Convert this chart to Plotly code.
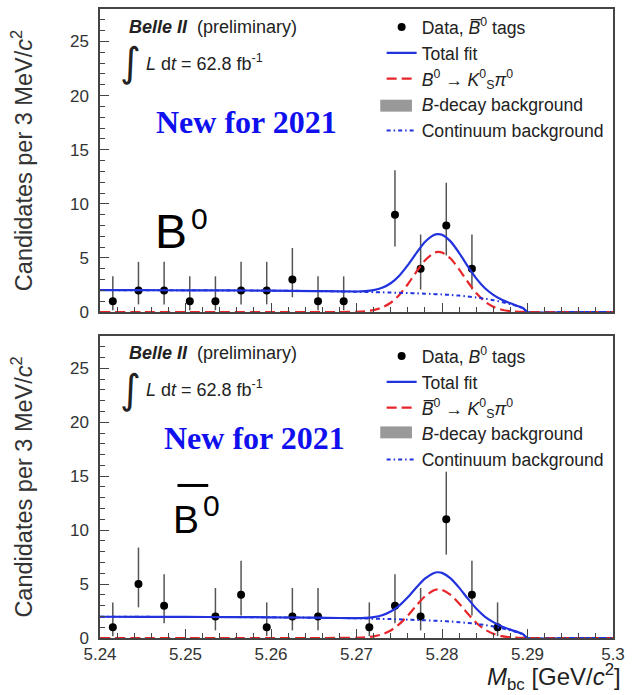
import plotly.graph_objects as go

# ---- binned data: 3 MeV bins in M_bc (bins with zero entries are not drawn) ----
M_TOP = [5.2415, 5.2445, 5.2475, 5.2505, 5.2535, 5.2565, 5.2595, 5.2625, 5.2655,
         5.2685, 5.2745, 5.2775, 5.2805, 5.2835]
N_TOP = [1, 2, 2, 1, 1, 2, 2, 3, 1, 1, 9, 4, 8, 4]

M_BOT = [5.2415, 5.2445, 5.2475, 5.2535, 5.2565, 5.2595, 5.2625, 5.2655, 5.2715,
         5.2745, 5.2775, 5.2805, 5.2835, 5.2865]
N_BOT = [1, 5, 3, 2, 4, 1, 2, 2, 1, 3, 2, 11, 4, 1]

# 68.3% Poisson (Garwood) interval limits, indexed by observed count n
POIS_LO = [0.0, 0.173, 0.708, 1.367, 2.086, 2.840, 3.620, 4.419, 5.232, 6.057, 6.891, 7.734]
POIS_HI = [1.841, 3.300, 4.638, 5.918, 7.163, 8.382, 9.584, 10.77, 11.95, 13.11, 14.27, 15.42]

# ---- fit components sampled along M_bc ----
GRID = [5.240, 5.245, 5.250, 5.255, 5.260, 5.265, 5.268, 5.270, 5.271, 5.272, 5.273,
        5.274, 5.275, 5.276, 5.277, 5.278, 5.279, 5.2795, 5.280, 5.281, 5.282, 5.283,
        5.284, 5.285, 5.286, 5.287, 5.288, 5.289, 5.2895, 5.290, 5.295, 5.300]

CONT_TOP = [2.03, 2.02, 2.01, 2.00, 1.98, 1.94, 1.91, 1.88, 1.86, 1.84, 1.82, 1.80,
            1.78, 1.76, 1.73, 1.70, 1.66, 1.645, 1.63, 1.58, 1.52, 1.44, 1.35, 1.24,
            1.10, 0.93, 0.73, 0.49, 0.33, 0.0, 0.0, 0.0]
SIG_TOP = [0, 0, 0, 0, 0, 0, 0.005, 0.02, 0.07, 0.18, 0.42, 0.86, 1.58, 2.57, 3.72,
           4.77, 5.44, 5.56, 5.51, 4.95, 3.95, 2.80, 1.76, 0.98, 0.49, 0.21, 0.08,
           0.03, 0.02, 0, 0, 0]
BDEC_TOP = [0, 0, 0, 0, 0, 0, 0, 0, 0, 0, 0, 0, 0, 0, 0, 0, 0, 0, 0, 0, 0, 0, 0, 0,
            0, 0, 0, 0, 0, 0, 0, 0]

CONT_BOT = [1.97, 1.96, 1.95, 1.94, 1.92, 1.88, 1.85, 1.83, 1.81, 1.79, 1.77, 1.75,
            1.73, 1.70, 1.67, 1.64, 1.61, 1.595, 1.58, 1.53, 1.47, 1.40, 1.31, 1.20,
            1.07, 0.90, 0.71, 0.48, 0.32, 0.0, 0.0, 0.0]
SIG_BOT = [0, 0, 0, 0, 0, 0, 0.004, 0.015, 0.055, 0.15, 0.34, 0.70, 1.28, 2.08, 3.01,
           3.86, 4.40, 4.50, 4.46, 4.00, 3.20, 2.27, 1.42, 0.79, 0.40, 0.17, 0.065,
           0.025, 0.015, 0, 0, 0]
BDEC_BOT = [0, 0, 0, 0, 0, 0, 0, 0, 0, 0, 0, 0, 0, 0, 0, 0, 0, 0, 0, 0, 0, 0, 0, 0,
            0, 0, 0, 0, 0, 0, 0, 0]

X_TICKS = [5.24, 5.25, 5.26, 5.27, 5.28, 5.29, 5.30]
X_TICKTEXT = ["5.24", "5.25", "5.26", "5.27", "5.28", "5.29", "5.3"]
Y_TICKS = [0, 5, 10, 15, 20, 25]

BLUE = "#2233dd"
RED = "#e8262a"
BDEC_GREY = "#999999"
GREY_AX = "#444444"
FONT = "Liberation Sans, Arial, sans-serif"

LEG_DATA_TOP = "Data, <i>B\u0305</i><sup>0</sup> tags"
LEG_DATA_BOT = "Data, <i>B</i><sup>0</sup> tags"
LEG_SIG_TOP = "<i>B</i><sup>0</sup> \u2192 <i>K</i><sup>0</sup><sub>S</sub><i>\u03c0</i><sup>0</sup>"
LEG_SIG_BOT = "<i>B\u0305</i><sup>0</sup> \u2192 <i>K</i><sup>0</sup><sub>S</sub><i>\u03c0</i><sup>0</sup>"

fig = go.Figure()


def add_panel(xa, ya, legend, m, n, cont, sig, bdec, leg_data, leg_sig):
    total = [c + s + b for c, s, b in zip(cont, sig, bdec)]
    err_hi = [POIS_HI[k] - k for k in n]
    err_lo = [k - POIS_LO[k] for k in n]
    common = dict(xaxis=xa, yaxis=ya, legend=legend)
    fig.add_trace(go.Scatter(
        x=m, y=n, mode="markers", name=leg_data, legendgroup=legend + "a",
        marker=dict(color="black", size=8),
        error_y=dict(type="data", symmetric=False, array=err_hi, arrayminus=err_lo,
                     color="#555555", thickness=1.5, width=0),
        **common))
    fig.add_trace(go.Scatter(
        x=GRID, y=total, mode="lines", name="Total fit", legendgroup=legend + "b",
        line=dict(color=BLUE, width=2.2, shape="spline", smoothing=0.6), **common))
    fig.add_trace(go.Scatter(
        x=GRID, y=sig, mode="lines", name=leg_sig, legendgroup=legend + "c",
        line=dict(color=RED, width=2.2, dash="10px,5px", shape="spline", smoothing=0.6),
        **common))
    # B-decay background: stacked area (negligible here); its legend swatch is a shape
    fig.add_trace(go.Scatter(
        x=GRID, y=bdec, mode="lines", name="<i>B</i>-decay background",
        legendgroup=legend + "d", fill="tozeroy", fillcolor="rgba(153,153,153,0)",
        line=dict(color="rgba(153,153,153,0)", width=0), **common))
    fig.add_trace(go.Scatter(
        x=GRID, y=cont, mode="lines", name="Continuum background",
        legendgroup=legend + "e",
        line=dict(color=BLUE, width=2, dash="4px,3px,1.5px,3px", shape="spline",
                  smoothing=0.6), **common))


add_panel("x", "y", "legend", M_TOP, N_TOP, CONT_TOP, SIG_TOP, BDEC_TOP,
          LEG_DATA_TOP, LEG_SIG_TOP)
add_panel("x2", "y2", "legend2", M_BOT, N_BOT, CONT_BOT, SIG_BOT, BDEC_BOT,
          LEG_DATA_BOT, LEG_SIG_BOT)

axis_line = dict(showline=True, linecolor=GREY_AX, linewidth=1.5, mirror=True,
                 showgrid=False, zeroline=False, ticks="inside", tickcolor=GREY_AX)

xcommon = dict(range=[5.24, 5.30], tickvals=X_TICKS, ticktext=X_TICKTEXT, ticklen=9,
               tickwidth=1.2,
               minor=dict(dtick=0.002, tick0=5.24, ticks="inside", ticklen=5,
                          tickcolor=GREY_AX, tickwidth=1),
               tickfont=dict(family=FONT, size=17, color="#333333"), **axis_line)
ycommon = dict(range=[0, 28], tickvals=Y_TICKS, ticklen=9, tickwidth=1.2,
               minor=dict(dtick=1, ticks="inside", ticklen=5, tickcolor=GREY_AX,
                          tickwidth=1),
               tickfont=dict(family=FONT, size=17, color="#333333"),
               ticklabelstandoff=6,
               title=dict(text="Candidates per 3 MeV/<i>c</i><sup>2</sup>",
                          font=dict(family=FONT, size=23.5, color="#333333"),
                          standoff=31),
               **axis_line)

legend_style = dict(xanchor="left", yanchor="top", bgcolor="rgba(0,0,0,0)",
                    font=dict(family=FONT, size=17.6, color="#222222"),
                    traceorder="normal", tracegroupgap=0, itemwidth=30)

fig.update_layout(
    width=632, height=695,
    margin=dict(l=100, r=14, t=7, b=57),
    paper_bgcolor="white", plot_bgcolor="white",
    font=dict(family=FONT, color="#222222"),
    xaxis=dict(domain=[0, 1], anchor="y", showticklabels=False, **xcommon),
    yaxis=dict(domain=[0.5182, 1], anchor="x", **ycommon),
    xaxis2=dict(domain=[0, 1], anchor="y2", showticklabels=True, **xcommon),
    yaxis2=dict(domain=[0, 0.4802], anchor="x2", **ycommon),
    legend=dict(x=0.549, y=1.0, **legend_style),
    legend2=dict(x=0.549, y=0.477, **legend_style),
)

ann = []
for xr, yr, new_x, new_y in (("x domain", "y domain", 0.106, 0.628),
                             ("x2 domain", "y2 domain", 0.120, 0.663)):
    ann.append(dict(xref=xr, yref=yr, x=0.052, y=0.942, xanchor="left", yanchor="middle",
                    showarrow=False, text="<b><i>Belle II</i></b>  (preliminary)",
                    font=dict(family=FONT, size=18, color="#222222")))
    ann.append(dict(xref=xr, yref=yr, x=0.035, y=0.826, xanchor="left", yanchor="middle",
                    showarrow=False, text="\u222b",
                    font=dict(family="DejaVu Sans", size=40, color="#222222")))
    ann.append(dict(xref=xr, yref=yr, x=0.085, y=0.825, xanchor="left", yanchor="middle",
                    showarrow=False,
                    text="<i>L</i> d<i>t</i> = 62.8 fb<sup>-1</sup>",
                    font=dict(family=FONT, size=18, color="#222222")))
    ann.append(dict(xref=xr, yref=yr, x=new_x, y=new_y,
                    xanchor="left", yanchor="middle", showarrow=False,
                    text="<b>New for 2021</b>",
                    font=dict(family="Liberation Serif, Times New Roman, serif",
                              size=32, color="#1010ee")))

# panel tags: B0 (top) and anti-B0 (bottom)
ann.append(dict(xref="x domain", yref="y domain", x=0.104, y=0.267, xanchor="left",
                yanchor="middle", showarrow=False, text="B",
                font=dict(family=FONT, size=48, color="black")))
ann.append(dict(xref="x domain", yref="y domain", x=0.174, y=0.31, xanchor="left",
                yanchor="middle", showarrow=False, text="0",
                font=dict(family=FONT, size=30, color="black")))
ann.append(dict(xref="x2 domain", yref="y2 domain", x=0.138, y=0.393, xanchor="left",
                yanchor="middle", showarrow=False, text="B",
                font=dict(family=FONT, size=39, color="black")))
ann.append(dict(xref="x2 domain", yref="y2 domain", x=0.196, y=0.44, xanchor="left",
                yanchor="middle", showarrow=False, text="0",
                font=dict(family=FONT, size=30, color="black")))
ann.append(dict(xref="paper", yref="paper", x=1.0193, y=-0.062, xanchor="right",
                yanchor="middle", showarrow=False,
                text="<i>M</i><sub>bc</sub> [GeV/<i>c</i><sup>2</sup>]",
                font=dict(family=FONT, size=24, color="#222222")))
fig.update_layout(annotations=ann)

# bar over the B of the anti-B label
fig.add_shape(type="line", xref="x2 domain", yref="y2 domain",
              x0=0.151, x1=0.211, y0=0.505, y1=0.505,
              line=dict(color="black", width=3))

# grey swatch for the B-decay background legend entries
for y0, y1 in ((0.8368, 0.8558), (0.3174, 0.3364)):
    fig.add_shape(type="rect", xref="paper", yref="paper", x0=0.5463, x1=0.6081,
                  y0=y0, y1=y1, fillcolor=BDEC_GREY, line=dict(width=0))

fig.write_html("out.html")
